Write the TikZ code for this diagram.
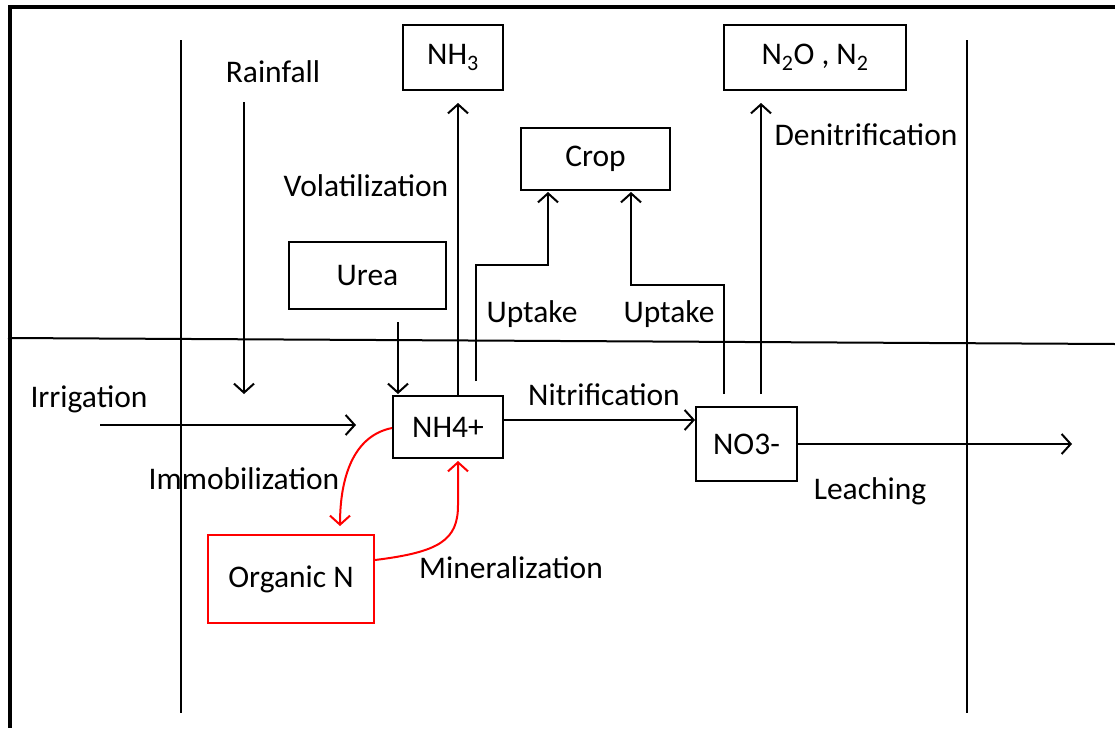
\documentclass[tikz,border=0pt]{standalone}
\usepackage{fontspec}
\setmainfont{Carlito}
\usetikzlibrary{arrows.meta}
\tikzset{
  box/.style={draw,line width=2pt,minimum width=#1,inner sep=0pt,font=\fontsize{31.5}{36}\selectfont},
  lbl/.style={inner sep=0pt,font=\fontsize{31.5}{36}\selectfont},
  arr/.style={line width=2pt,-{Straight Barb[length=9pt,width=20pt,line width=2pt]}},
  ln/.style={line width=2pt},
  redarr/.style={arr,red},
}
\begin{document}
\begin{tikzpicture}[x=1pt,y=-1pt]
\useasboundingbox (0,0) rectangle (1115,728);
% frame
\draw[line width=4pt] (1115,7) -- (10,7) -- (10,728);
% zone lines
\draw[ln] (181,40) -- (181,713);
\draw[ln] (967,40) -- (967,713);
\draw[ln] (8,338) -- (1115,344);
% boxes
\node[box=100pt,minimum height=65pt] (nh3) at (453,57.5) {NH\textsubscript{3}};
\node[box=182pt,minimum height=65pt] (n2o) at (815,57.5) {N\textsubscript{2}O , N\textsubscript{2}};
\node[box=149pt,minimum height=62pt] (crop) at (595.5,159) {Crop};
\node[box=157pt,minimum height=67pt] (urea) at (367.5,275.5) {Urea};
\node[box=110pt,minimum height=62pt] (nh4) at (448,427) {NH4+};
\node[box=101pt,minimum height=74pt] (no3) at (746.5,444) {NO3-};
\node[box=166pt,minimum height=88pt,draw=red] (org) at (291,579) {Organic N};
% labels
\node[lbl] (rain) at (273,72) {Rainfall};
\node[lbl] (vol) at (366,186) {Volatilization};
\node[lbl] (den) at (866,135) {Denitrification};
\node[lbl] (up1) at (532,314) {Uptake};
\node[lbl] (up2) at (669,314) {Uptake};
\node[lbl] (irr) at (89,399) {Irrigation};
\node[lbl] (nit) at (604,395) {Nitrification};
\node[lbl] (lea) at (870,491) {Leaching};
\node[lbl] (imm) at (244,479) {Immobilization};
\node[lbl] (min) at (511,568) {Mineralization};
% free ends
\coordinate (rainS) at (244,102);
\coordinate (rainE) at (244,394);
\coordinate (irrS) at (100,425);
\coordinate (irrE) at (356,425);
\coordinate (ureaE) at (398,394);
\coordinate (leaE) at (1072,444);
% connectors
\draw[arr] (rainS) -- (rainE);
\draw[arr] (irrS) -- (irrE);
\draw[arr] (398,322) -- (ureaE);
\draw[arr] (nh4.north -| 458,0) -- (458,103);
\draw[arr] (476,381) -- (476,265) -- (548,265) -- (548,192);
\draw[arr] (724,394) -- (724,285) -- (631,285) -- (631,192);
\draw[arr] (761,394) -- (761,103);
\draw[arr] (nh4.east |- 0,420) -- (no3.west |- 0,420);
\draw[arr] (no3.east) -- (leaE);
\draw[redarr] (nh4.west |- 0,428) .. controls (352,436) and (340,480) .. (340,526);
\draw[redarr] (org.east |- 0,560) .. controls (440,552) and (458,540) .. (458,505) -- (458,461);
\end{tikzpicture}
\end{document}
